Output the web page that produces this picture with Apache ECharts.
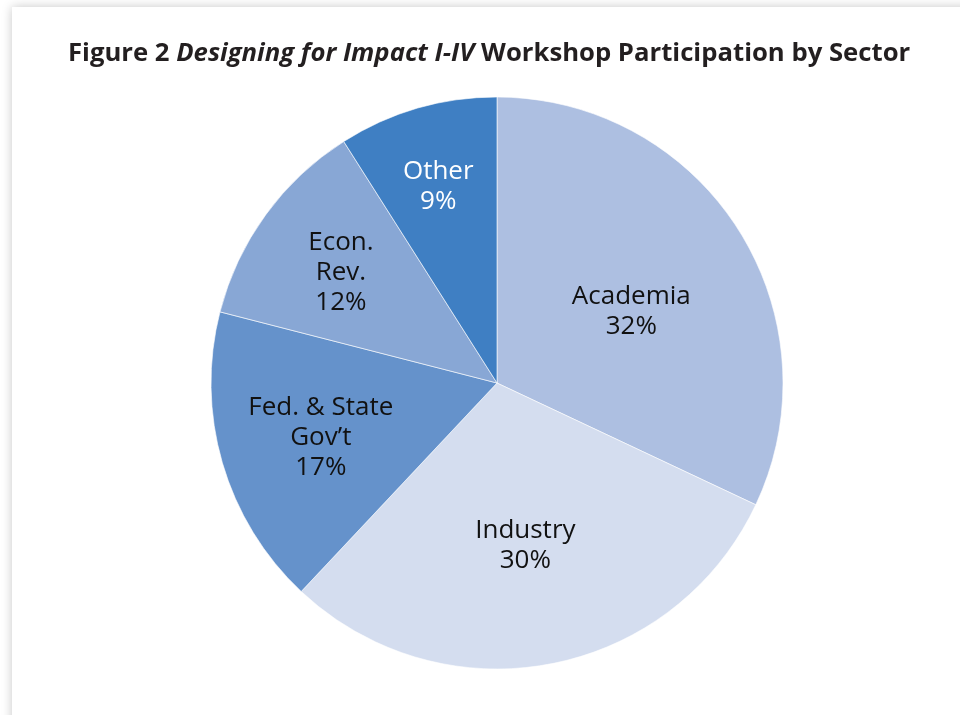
<!DOCTYPE html>
<html>
<head>
<meta charset="utf-8">
<script src="https://cdn.jsdelivr.net/npm/echarts@6/dist/echarts.min.js"></script>
<style>
  html, body { margin: 0; padding: 0; background: #ffffff; overflow: hidden; }
  #panel { position: absolute; left: 12px; top: 7px; width: 1000px; height: 760px; background: #ffffff; box-shadow: 0 0 10px rgba(0,0,0,0.22); }
  #chart { position: absolute; left: 0; top: 0; width: 960px; height: 715px; }
</style>
</head>
<body>
<div id="panel"></div>
<div id="chart"></div>
<script>
// ---- data ----
const sectors = ['Academia', 'Industry', 'Fed. & State\nGov\u2019t', 'Econ.\nRev.', 'Other'];
const shares = [32, 30, 17, 12, 9];
const sliceColors = ['#adbfe1', '#d4ddef', '#6592cb', '#88a7d5', '#3f7fc3'];
const labelColors = ['#111111', '#111111', '#111111', '#111111', '#ffffff'];
const labelNudges = [[11, 7], [1, 19], [-36, 14], [-38, -25], [-18, -56]];

const chart = echarts.init(document.getElementById('chart'), null, { renderer: 'canvas' });

const pieData = sectors.map((name, i) => ({
  name: name,
  value: shares[i],
  itemStyle: { color: sliceColors[i] },
  label: { color: labelColors[i] }
}));

chart.setOption({
  animation: false,
  title: {
    text: '{b|Figure 2 }{bi|Designing for Impact I-IV}{b| Workshop Participation by Sector}',
    left: 63,
    top: 36,
    textStyle: {
      rich: {
        b: { fontFamily: 'Open Sans', fontWeight: 'bold', fontSize: 25.7, color: '#231f20' },
        bi: { fontFamily: 'Open Sans', fontWeight: 'bold', fontStyle: 'italic', fontSize: 25.7, color: '#231f20' }
      }
    }
  },
  series: [{
    type: 'pie',
    center: [497, 383],
    radius: [0, 286],
    startAngle: 90,
    clockwise: true,
    itemStyle: { borderColor: '#ffffff', borderWidth: 0.6 },
    label: {
      show: true,
      position: 'inside',
      rotate: 0,
      fontFamily: 'Open Sans',
      fontSize: 26,
      lineHeight: 30,
      align: 'center',
      formatter: p => p.name + '\n' + p.value + '%'
    },
    labelLine: { show: false },
    labelLayout: p => ({ dx: labelNudges[p.dataIndex][0], dy: labelNudges[p.dataIndex][1] }),
    emphasis: { disabled: true },
    data: pieData
  }]
});
</script>
</body>
</html>
